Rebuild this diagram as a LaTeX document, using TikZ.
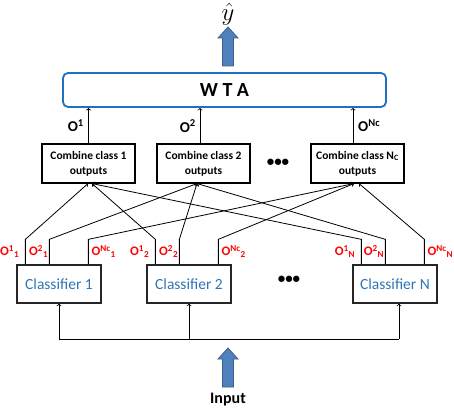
\documentclass[tikz,border=0pt]{standalone}
\usepackage{fontspec}
\setmainfont{Carlito}
\usepackage{tikz}
\usetikzlibrary{arrows,calc,positioning}

\definecolor{wtablue}{HTML}{1F6FC5}
\definecolor{arrblue}{HTML}{4F81BD}
\definecolor{arredge}{HTML}{3A5F8E}
\definecolor{clsblue}{HTML}{2E75B6}

\newcommand{\olab}[2]{O\textsuperscript{#1}\textsubscript{#2}}

\tikzset{
  wtabox/.style={draw=wtablue,line width=1.8pt,rounded corners=5pt,minimum width=323pt,minimum height=34pt,font=\bfseries\fontsize{20}{24}\selectfont},
  combbox/.style={draw,line width=1.1pt,minimum width=93pt,minimum height=39pt,inner sep=0pt,align=center,font=\bfseries\fontsize{11.5}{15}\selectfont},
  clsbox/.style={draw=black!85,line width=1.3pt,minimum width=84pt,minimum height=38pt,text=clsblue,font=\fontsize{15.5}{18}\selectfont},
  olabel/.style={text=red,inner sep=0pt,font=\bfseries\fontsize{13}{15}\selectfont},
  bigo/.style={inner sep=0pt,font=\bfseries\fontsize{15}{18}\selectfont},
  link/.style={->,line width=0.8pt},
  fatarrow/.pic={
    \draw[draw=arredge,fill=arrblue,line width=0.8pt]
      (-5.5,39) -- (-5.5,11) -- (-10,11) -- (0,0) -- (10,11) -- (5.5,11) -- (5.5,39) -- cycle;
  }
}

\begin{document}
\begin{tikzpicture}[x=1pt,y=-1pt]
  \useasboundingbox (0,0) rectangle (454,411);

  % output
  \node[inner sep=0pt] (yhat) at (228,14) {\fontsize{23}{26}\selectfont$\hat{y}$};
  \pic at (228,27) {fatarrow};
  \node[wtabox] (wta) at (224.5,90) {W T A};

  % combiners
  \node[combbox] (cb1) at (88.5,163.5) {Combine class 1\\outputs};
  \node[combbox] (cb2) at (203.5,163.5) {Combine class 2\\outputs};
  \node[combbox] (cb3) at (357.5,163.5) {Combine class N\textsubscript{C}\\outputs};
  \node[font=\bfseries\fontsize{15}{18}\selectfont] (dots1) at (278,163) {\textbullet\textbullet\textbullet};

  \draw[link] (cb1.north) -- (cb1.north |- wta.south);
  \draw[link] ([xshift=-3.5pt]cb2.north) -- ([xshift=-3.5pt]cb2.north |- wta.south);
  \draw[link] ([xshift=-4.5pt]cb3.north) -- ([xshift=-4.5pt]cb3.north |- wta.south);
  \node[bigo,anchor=east] at (84,126) {O\textsuperscript{1}};
  \node[bigo,anchor=east] at (196,126) {O\textsuperscript{2}};
  \node[bigo,anchor=west] at (358,126) {O\textsuperscript{Nc}};

  % classifiers
  \node[clsbox] (cl1) at (59,284) {Classifier 1};
  \node[clsbox] (cl2) at (189,284) {Classifier 2};
  \node[clsbox] (clN) at (395,284) {Classifier N};
  \node[font=\bfseries\fontsize{15}{18}\selectfont] (dots2) at (289,280) {\textbullet\textbullet\textbullet};

  \foreach \c/\s/\ta/\tc in {cl1/1/-0.5/-3.5,cl2/2/3.5/-3.5,clN/N/3.5/1.5}{
    \draw[link] ([xshift=9pt]\c.north west) -- ++(0,-25) -- ([xshift=\ta pt]cb1.south);
    \draw[link] ([xshift=33pt]\c.north west) -- ++(0,-25) -- ([xshift=-6.5pt]cb2.south);
    \draw[link] ([xshift=72pt]\c.north west) -- ++(0,-25) -- ([xshift=\tc pt]cb3.south);
    \node[olabel,anchor=east] at ([xshift=3pt,yshift=13pt]\c.north west) {\olab{1}{\s}};
    \node[olabel,anchor=east] at ([xshift=32pt,yshift=13pt]\c.north west) {\olab{2}{\s}};
    \node[olabel,anchor=west] at ([xshift=75pt,yshift=13pt]\c.north west) {\olab{Nc}{\s}};
  }

  % input
  \coordinate (b1) at (59,339);
  \coordinate (b2) at (189,339);
  \coordinate (bN) at (399,339);
  \draw[line width=0.8pt] (b1) -- (bN);
  \draw[link] (b1) -- (cl1.south);
  \draw[link] (b2) -- (cl2.south);
  \draw[link] (bN) -- (bN |- clN.south);
  \pic at (228,348) {fatarrow};
  \node[font=\bfseries\fontsize{16}{19}\selectfont] (input) at (228,400) {Input};
\end{tikzpicture}
\end{document}
